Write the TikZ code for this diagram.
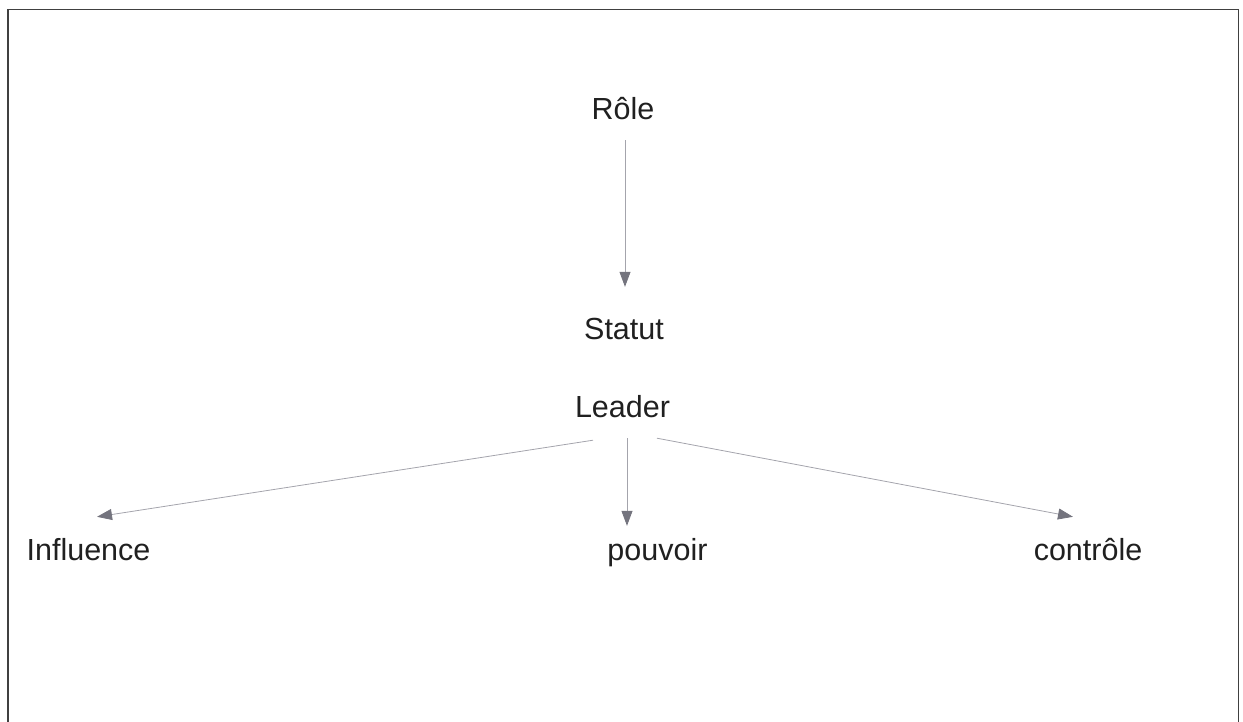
\documentclass[tikz,border=0pt]{standalone}
\usepackage{fontspec}
\setmainfont{Liberation Sans}
\usetikzlibrary{arrows.meta}
\definecolor{txt}{HTML}{202020}
\definecolor{lnk}{HTML}{A4A4AC}
\definecolor{tipc}{HTML}{74747E}
\begin{document}
\begin{tikzpicture}[x=1pt,y=-1pt,
  lbl/.style={inner sep=0pt, anchor=base, text=txt, font=\fontsize{30.5}{36}\selectfont,
              text height=22pt, text depth=7pt},
  link/.style={draw=lnk, line width=0.8pt,
               -{Triangle[length=15pt,width=11pt,fill=tipc,color=tipc]}}]
\useasboundingbox (0,0) rectangle (1243,721);
\draw[line width=1.8pt, black!75] (8,722) -- (8,9.5) -- (1238.5,9.5) -- (1238.5,722);

\node[lbl] (role)      at (623,119)  {Rôle};
\node[lbl] (statut)    at (624,339)  {Statut};
\node[lbl] (leader)    at (622.5,417){Leader};
\node[lbl] (influence) at (88.5,560) {Influence};
\node[lbl] (pouvoir)   at (657.5,560){pouvoir};
\node[lbl] (controle)  at (1088,560) {contrôle};

\draw[link] ([xshift=2pt,yshift=-14pt]role.south) -- ([xshift=1pt,yshift=30pt]statut.north);
\draw[link] ([xshift=-29.5pt,yshift=-16pt]leader.south) -- ([xshift=8.5pt,yshift=21pt]influence.north);
\draw[link] ([xshift=4.5pt,yshift=-14pt]leader.south) -- ([xshift=-30.5pt,yshift=12pt]pouvoir.north);
\draw[link] ([xshift=34.5pt,yshift=-14pt]leader.south) -- ([xshift=-15pt,yshift=21pt]controle.north);
\end{tikzpicture}
\end{document}
